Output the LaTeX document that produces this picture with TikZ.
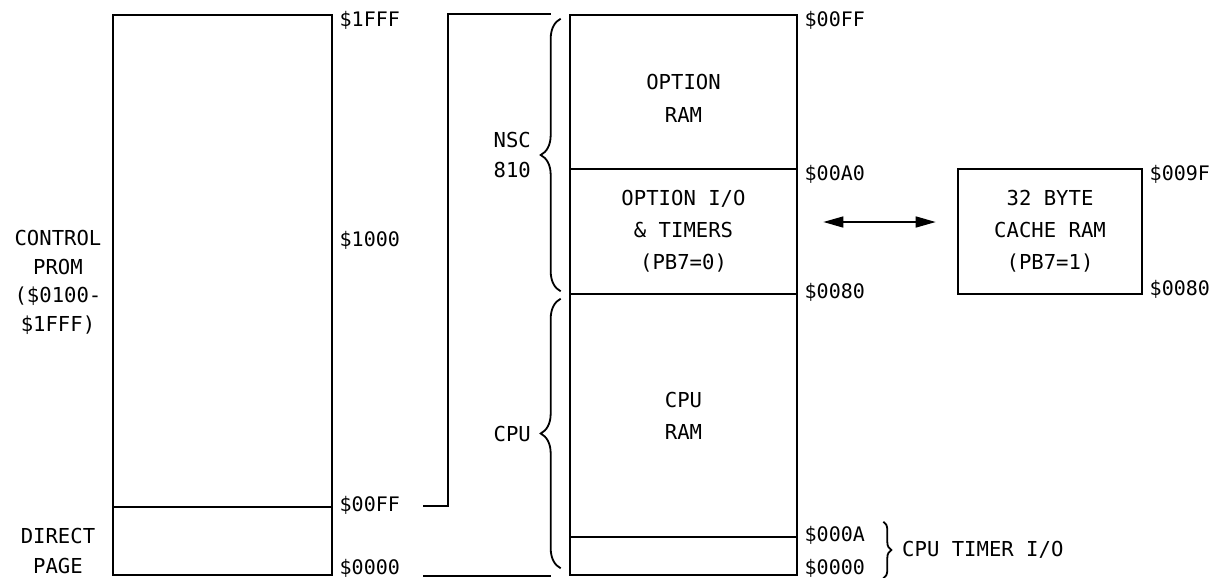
\documentclass[tikz,border=0pt]{standalone}
\usepackage{fontspec}
\setmonofont{DejaVu Sans Mono}
\usetikzlibrary{arrows.meta,positioning,calc,decorations.pathreplacing}
\tikzset{
  memblock/.style={draw,line width=1.3pt,inner sep=0pt,align=center,
    font=\ttfamily\fontsize{10.3}{16}\selectfont},
  addr/.style={anchor=west,inner sep=3pt,font=\ttfamily\fontsize{10}{12}\selectfont},
  lbl/.style={align=center,inner sep=2pt,font=\ttfamily\fontsize{10.3}{15}\selectfont},
  brc/.style={decorate,decoration={brace,amplitude=#1},line width=0.9pt},
  expand/.style={line width=1pt},
  swap/.style={{Triangle[length=10pt,width=5.5pt]}-{Triangle[length=10pt,width=5.5pt]},line width=0.7pt}
}
\begin{document}
\begin{tikzpicture}[x=0.5pt,y=0.5pt]
  \useasboundingbox (0,0) rectangle (1210,-578);
  % left map: control prom and direct page
  \node[memblock,minimum width=109.5pt,minimum height=246pt] (prom) at (222.5,-261) {};
  \node[memblock,minimum width=109.5pt,minimum height=34pt] (dpage) at (222.5,-541) {};
  \node[lbl,font=\ttfamily\fontsize{10.3}{14.3}\selectfont] (promtxt) at (58,-282.5)
    {CONTROL\\PROM\\(\$0100-\\\$1FFF)};
  \node[lbl] (dptxt) at (58,-551) {DIRECT\\PAGE};
  \node[addr] (l1fff) at ([yshift=-3.5pt]prom.north east) {\$1FFF};
  \node[addr] (l1000) at (prom.east |- 0,-240) {\$1000};
  \node[addr] (l00ff) at (dpage.north east) {\$00FF};
  \node[addr] (l0000) at ([yshift=4pt]dpage.south east) {\$0000};
  % middle map: page zero
  \node[memblock,minimum width=113.5pt,minimum height=77pt] (optram) at (683.5,-92) {};
  \node[memblock,minimum width=113.5pt,minimum height=62.5pt] (optio) at (683.5,-231.5)
    {OPTION I/O\\\& TIMERS\\(PB7=0)};
  \node[memblock,minimum width=113.5pt,minimum height=121.5pt] (cpuram) at (683.5,-415.5)
    {CPU\\RAM};
  \node[memblock,minimum width=113.5pt,minimum height=19pt] (cputmr) at (683.5,-556) {};
  \node[lbl,font=\ttfamily\fontsize{10.3}{16.5}\selectfont] (optramtxt) at (683.5,-98.5) {OPTION\\RAM};
  \node[addr] (m00ff) at ([yshift=-3.5pt]optram.north east) {\$00FF};
  \node[addr] (m00a0) at ([yshift=-2pt]optram.south east) {\$00A0};
  \node[addr] (m0080) at ([yshift=1.5pt]optio.south east) {\$0080};
  \node[addr] (m000a) at (cputmr.north east) {\$000A};
  \node[addr] (m0000) at ([yshift=4pt]cputmr.south east) {\$0000};
  % cache ram
  \node[memblock,minimum width=92pt,minimum height=62.5pt] (cache) at (1050,-231.5)
    {32 BYTE\\CACHE RAM\\(PB7=1)};
  \node[addr] (c009f) at ([yshift=-3.5pt]cache.north east) {\$009F};
  \node[addr] (c0080) at ([yshift=3pt]cache.south east) {\$0080};
  \draw[swap] ([shift={(12.5pt,4.75pt)}]optio.east) -- ([shift={(-10.5pt,4.75pt)}]cache.west);
  % direct page expanded
  \draw[expand] ([xshift=45pt]dpage.north east) -| ([xshift=-60.5pt]optram.north west)
    -- ([xshift=-9pt]optram.north west);
  \draw[expand] ([xshift=45pt]dpage.south east) -- ([xshift=-9pt]cputmr.south west);
  % braces
  \draw[brc=10pt] ([shift={(-4pt,2pt)}]optio.south west) -- ([shift={(-4pt,-2.5pt)}]optram.north west)
    node[lbl,midway,left=12.5pt] (nsc) {NSC\\810};
  \draw[brc=10pt] ([shift={(-4pt,4pt)}]cputmr.south west) -- ([shift={(-4pt,-3pt)}]cpuram.north west)
    node[lbl,midway,left=12.5pt] (cpu) {CPU};
  \draw[brc=4pt] ([shift={(42.5pt,7pt)}]cputmr.north east) -- ([shift={(42.5pt,-1pt)}]cputmr.south east)
    node[lbl,midway,right=7pt] (tmr) {CPU TIMER I/O};
\end{tikzpicture}
\end{document}
